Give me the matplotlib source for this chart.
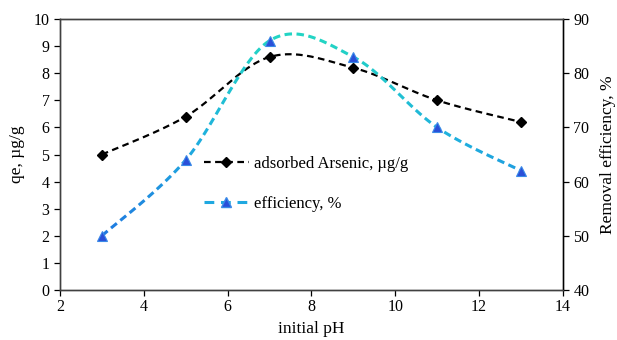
import numpy as np
import matplotlib
matplotlib.use("Agg")
from matplotlib import pyplot as plt
from matplotlib.collections import LineCollection
from matplotlib.colors import LinearSegmentedColormap
from matplotlib.lines import Line2D

ph = [3, 5, 7, 9, 11, 13]
qe = [5.0, 6.4, 8.6, 8.2, 7.0, 6.2]
efficiency = [50, 64, 86, 83, 70, 62]

plt.rcParams['font.family'] = ['Liberation Serif', 'DejaVu Serif']
plt.rcParams['font.size'] = 11.5


def smooth(xs, ys, n=60):
    # Excel-style smoothed line: cubic Bezier with control points from neighbours
    p = np.column_stack([xs, ys]).astype(float)
    p = np.vstack([p[0], p, p[-1]])
    out = []
    for i in range(1, len(p) - 2):
        p0, p1, p2, p3 = p[i - 1], p[i], p[i + 1], p[i + 2]
        c1 = p1 + (p2 - p0) / 6
        c2 = p2 - (p3 - p1) / 6
        t = np.linspace(0, 1, n)[:, None]
        seg = ((1 - t) ** 3) * p1 + 3 * ((1 - t) ** 2) * t * c1 + 3 * (1 - t) * t ** 2 * c2 + t ** 3 * p2
        out.append(seg if i == 1 else seg[1:])
    seg = np.vstack(out)
    return seg[:, 0], seg[:, 1]


def dash_pieces(a, x, y, on, off):
    # cut a data-space polyline into dashes of fixed pixel length
    disp = a.transData.transform(np.column_stack([x, y]))
    d = np.concatenate([[0], np.cumsum(np.hypot(*np.diff(disp, axis=0).T))])
    pieces = []
    start = 0.0
    while start < d[-1]:
        end = min(start + on, d[-1])
        s = np.linspace(start, end, 8)
        pieces.append(np.column_stack([np.interp(s, d, x), np.interp(s, d, y)]))
        start = end + off
    return pieces


fig = plt.figure(figsize=(6.17, 3.4), dpi=100)
ax = fig.add_axes([0.0972, 0.147, 0.8152, 0.797])
ax2 = ax.twinx()

ax.set_xlim(2, 14)
ax.set_ylim(0, 10)
ax2.set_ylim(40, 90)
ax.set_xticks(range(2, 15, 2))
ax.set_yticks(range(0, 11))
ax2.set_yticks(range(40, 91, 10))

# adsorbed arsenic (left axis)
sx, sy = smooth(ph, qe)
ax.plot(sx, sy, color='black', lw=1.6, ls=(0, (3, 2)), zorder=3)
ax.plot(ph, qe, ls='none', marker='D', ms=5.5, color='black', zorder=4)

# efficiency (right axis), dashed line with blue-to-turquoise gradient
ex, ey = smooth(ph, efficiency)
pieces = dash_pieces(ax2, ex, ey, on=7.5, off=4.5)
cmap = LinearSegmentedColormap.from_list('eff', ['#1f78e0', '#1fb0de', '#22d4c4'])
lc = LineCollection(pieces, cmap=cmap, linewidths=2.2, capstyle='butt')
lc.set_array(np.array([pc[:, 1].mean() for pc in pieces]))
lc.set_clim(50, 86)
ax2.add_collection(lc)
ax2.plot(ph, efficiency, ls='none', marker='^', ms=6.5, color='#2a4fd8',
         markeredgecolor='#3a8ae8', markeredgewidth=0.8, zorder=4)

ax.set_xlabel('initial pH', fontsize=12.5, labelpad=4.5)
ax.set_ylabel('qe, \u00b5g/g', fontsize=12.5, labelpad=6)
ax2.set_ylabel('Removal efficiency, %', fontsize=12.5, labelpad=8)

for a in (ax, ax2):
    a.tick_params(direction='out', length=4, width=0.9, colors='black', labelsize=11.5)
    for s in a.spines.values():
        s.set_color('#404040')
        s.set_linewidth(1.0)
ax2.spines['right'].set_color('black')
ax.tick_params(axis='x', pad=2.5)

handles = [
    Line2D([], [], color='black', lw=1.6, ls=(0, (3, 2)), marker='D', ms=5.5),
    Line2D([], [], color='#1fa8e0', lw=2.2, ls=(0, (3.2, 2.2)), marker='^', ms=6.5,
           markerfacecolor='#2a4fd8', markeredgecolor='#3a8ae8'),
]
ax.legend(handles, ['adsorbed Arsenic, \u00b5g/g', 'efficiency, %'], loc='upper left',
          bbox_to_anchor=(0.256, 0.55), frameon=False, handlelength=2.7, handletextpad=0.3,
          labelspacing=1.45, fontsize=12)

fig.savefig('out.png', dpi=100)
